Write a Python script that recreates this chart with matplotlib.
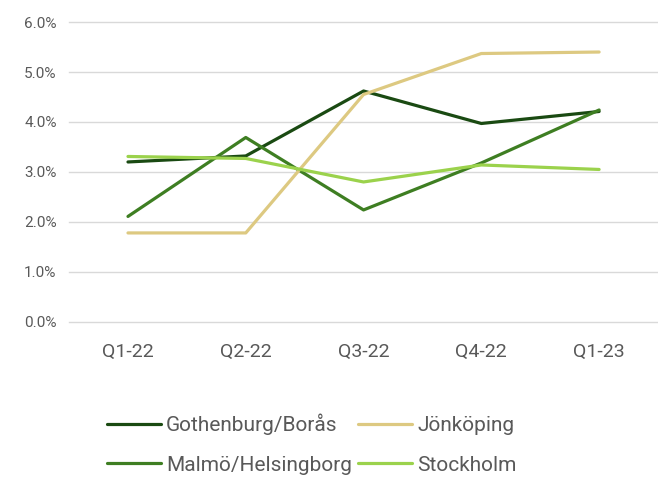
import matplotlib.pyplot as plt
from matplotlib.ticker import FuncFormatter

plt.rcParams['font.family'] = ['Roboto', 'DejaVu Sans']

quarters = ['Q1-22', 'Q2-22', 'Q3-22', 'Q4-22', 'Q1-23']
gothenburg = [3.20, 3.32, 4.62, 3.97, 4.21]
jonkoping = [1.78, 1.78, 4.55, 5.37, 5.40]
malmo = [2.11, 3.69, 2.24, 3.18, 4.24]
stockholm = [3.31, 3.27, 2.80, 3.14, 3.05]

# order chosen so the 2-column legend reads row by row
series = [
    ('Gothenburg/Borås', gothenburg, '#1A4A12'),
    ('Malmö/Helsingborg', malmo, '#3E7E22'),
    ('Jönköping', jonkoping, '#DDC981'),
    ('Stockholm', stockholm, '#9BD24C'),
]

fig = plt.figure(figsize=(6.58, 4.79), dpi=100)
ax = fig.add_axes([0.105, 0.328, 0.895, 0.626])

x = range(len(quarters))
for name, vals, col in series:
    ax.plot(x, vals, color=col, lw=2.3, label=name, solid_capstyle='round')

ax.set_xlim(-0.5, len(quarters) - 0.5)
ax.set_ylim(0, 6)
ax.set_yticks([0, 1, 2, 3, 4, 5, 6])
ax.yaxis.set_major_formatter(FuncFormatter(lambda v, p: '%.1f%%' % v))
ax.set_xticks(list(x))
ax.set_xticklabels(quarters)
ax.grid(axis='y', color='#D9D9D9', lw=1)
for gl in ax.get_ygridlines():
    gl.set_clip_on(False)
ax.set_axisbelow(True)
for s in ax.spines.values():
    s.set_visible(False)
ax.tick_params(length=0, colors='#595959')
ax.tick_params(axis='y', labelsize=11, pad=9)
ax.tick_params(axis='x', labelsize=14, pad=15)

leg = fig.legend(loc='upper left', bbox_to_anchor=(0.162, 0.137), ncol=2,
                 frameon=False, fontsize=15, labelcolor='#595959',
                 handlelength=2.6, handletextpad=0.25, columnspacing=0.3,
                 labelspacing=1.0, borderpad=0, borderaxespad=0)

fig.savefig('out.png', dpi=100)
